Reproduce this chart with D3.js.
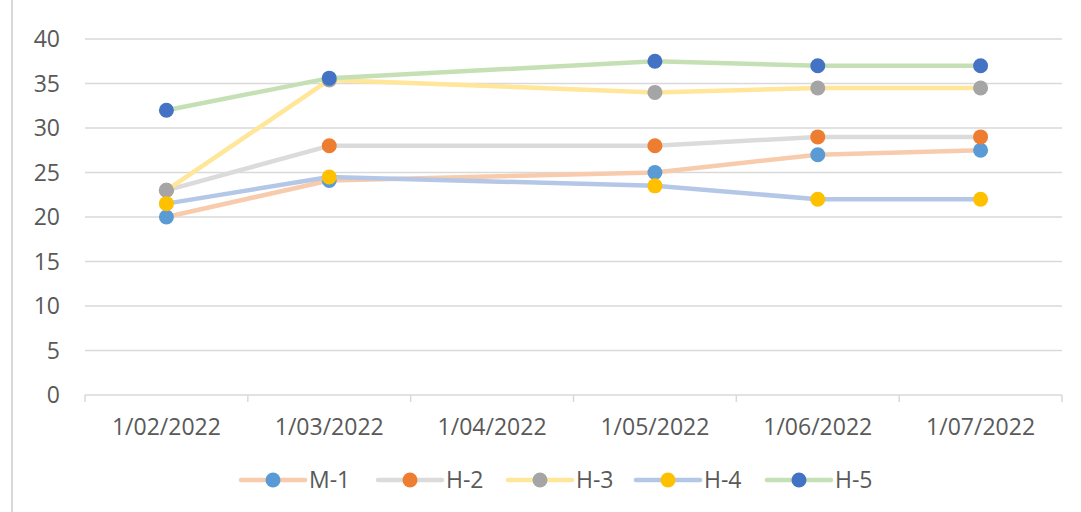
<!DOCTYPE html>
<html><head><meta charset="utf-8">
<script src="https://cdn.jsdelivr.net/npm/d3@7/dist/d3.min.js"></script>
<style>body{margin:0;background:#fff;}svg{display:block;font-family:"Open Sans",sans-serif;}</style>
</head><body><svg id="c" width="1081" height="512"></svg>
<script>
const categories = ["1/02/2022","1/03/2022","1/04/2022","1/05/2022","1/06/2022","1/07/2022"];
const seriesNames = ["M-1","H-2","H-3","H-4","H-5"];
const m1 = [20, 24.1, null, 25, 27, 27.5];
const h2 = [23, 28, null, 28, 29, 29];
const h3 = [23, 35.4, null, 34, 34.5, 34.5];
const h4 = [21.5, 24.5, null, 23.5, 22, 22];
const h5 = [32, 35.6, null, 37.5, 37, 37];
const yTicks = [0,5,10,15,20,25,30,35,40];
const lineColors = ["#F8CBAD","#DBDBDB","#FFE699","#B4C7E7","#C5E0B4"];
const markerColors = ["#5B9BD5","#ED7D31","#A5A5A5","#FFC000","#4472C4"];
const seriesValues = [m1,h2,h3,h4,h5];

const svg = d3.select("#c");
const x = d3.scaleBand().domain(categories).range([85,1062]);
const y = d3.scaleLinear().domain([0,40]).range([395,39]);

// left border
svg.append("line").attr("x1",12).attr("x2",12).attr("y1",0).attr("y2",512)
  .attr("stroke","#d9d9d9").attr("stroke-width",2);

// gridlines
svg.append("g").selectAll("line").data(yTicks.filter(d=>d>0)).join("line")
  .attr("x1",85).attr("x2",1062).attr("y1",d=>y(d)).attr("y2",d=>y(d))
  .attr("stroke","#d9d9d9").attr("stroke-width",1.5);

// y labels
svg.append("g").selectAll("text").data(yTicks).join("text")
  .attr("x",60).attr("y",d=>y(d)).attr("dy","0.35em").attr("text-anchor","end")
  .attr("font-size",23).attr("fill","#595959").text(d=>d);

// x axis
const xa = svg.append("g").attr("transform","translate(0,395)")
  .call(d3.axisBottom(x).tickSize(0).tickPadding(0));
xa.select(".domain").remove();
xa.selectAll("text").remove();
svg.append("line").attr("x1",85).attr("x2",1062).attr("y1",395).attr("y2",395)
  .attr("stroke","#d9d9d9").attr("stroke-width",1.5);
const bounds = categories.map(c=>x(c)).concat([x(categories[categories.length-1])+x.bandwidth()]);
svg.append("g").selectAll("line").data(bounds).join("line")
  .attr("x1",d=>d).attr("x2",d=>d).attr("y1",395).attr("y2",402)
  .attr("stroke","#d9d9d9").attr("stroke-width",1.5);
svg.append("g").selectAll("text").data(categories).join("text")
  .attr("x",d=>x(d)+x.bandwidth()/2).attr("y",435).attr("text-anchor","middle")
  .attr("font-size",23).attr("fill","#595959").text(d=>d);

// series
const line = d3.line().defined(d=>d.v!==null).x(d=>x(d.c)+x.bandwidth()/2).y(d=>y(d.v));
seriesValues.forEach((vals,i)=>{
  const pts = categories.map((c,j)=>({c, v: vals[j]})).filter(d=>d.v!==null);
  const g = svg.append("g");
  g.append("path").datum(pts).attr("d",line).attr("fill","none")
    .attr("stroke",lineColors[i]).attr("stroke-width",4.5).attr("stroke-linejoin","round");
  g.selectAll("circle").data(pts).join("circle")
    .attr("cx",d=>x(d.c)+x.bandwidth()/2).attr("cy",d=>y(d.v)).attr("r",7.5)
    .attr("fill",markerColors[i]);
});

// legend
const legX = [241,378,508,636,767];
const lg = svg.append("g");
seriesNames.forEach((n,i)=>{
  const x0 = legX[i];
  lg.append("line").attr("x1",x0).attr("x2",x0+64).attr("y1",480).attr("y2",480)
    .attr("stroke",lineColors[i]).attr("stroke-width",4.5).attr("stroke-linecap","round");
  lg.append("circle").attr("cx",x0+32).attr("cy",480).attr("r",7.5).attr("fill",markerColors[i]);
  lg.append("text").attr("x",x0+68).attr("y",480).attr("dy","0.35em")
    .attr("font-size",23).attr("fill","#595959").text(n);
});
</script></body></html>
